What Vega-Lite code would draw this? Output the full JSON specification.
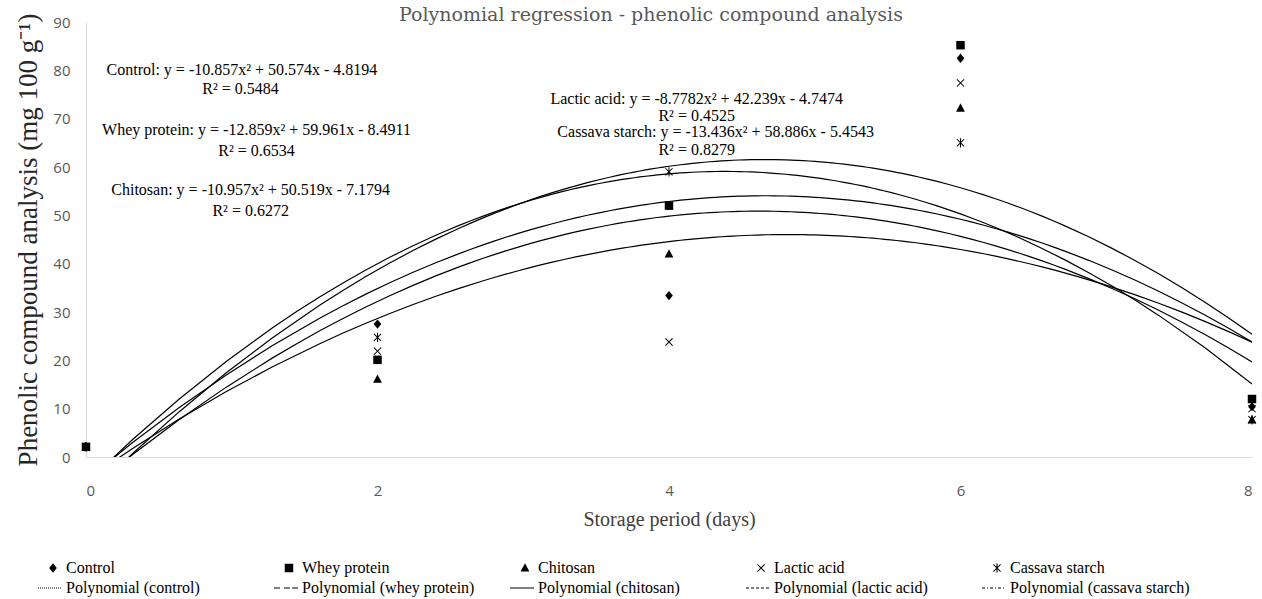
{
  "$schema": "https://vega.github.io/schema/vega-lite/v6.json",
  "width": 1166,
  "height": 435,
  "autosize": {"type": "none"},
  "padding": {"left": 86, "top": 22, "right": 10, "bottom": 142},
  "background": "white",
  "title": {
    "text": "Polynomial regression - phenolic compound analysis",
    "font": "DejaVu Serif",
    "fontSize": 19,
    "fontWeight": "normal",
    "color": "#595959",
    "anchor": "middle",
    "offset": -12,
    "dx": -18
  },
  "datasets": {
    "obs": [
      {"series": "Control", "day": 0, "value": 2.1},
      {"series": "Control", "day": 2, "value": 27.5},
      {"series": "Control", "day": 4, "value": 33.4},
      {"series": "Control", "day": 6, "value": 82.5},
      {"series": "Control", "day": 8, "value": 10.4},
      {"series": "Chitosan", "day": 0, "value": 2.1},
      {"series": "Chitosan", "day": 2, "value": 16.1},
      {"series": "Chitosan", "day": 4, "value": 42.0},
      {"series": "Chitosan", "day": 6, "value": 72.2},
      {"series": "Chitosan", "day": 8, "value": 7.7},
      {"series": "Lactic acid", "day": 0, "value": 2.1},
      {"series": "Lactic acid", "day": 2, "value": 21.9},
      {"series": "Lactic acid", "day": 4, "value": 23.8},
      {"series": "Lactic acid", "day": 6, "value": 77.4},
      {"series": "Lactic acid", "day": 8, "value": 10.0},
      {"series": "Cassava starch", "day": 0, "value": 2.1},
      {"series": "Cassava starch", "day": 2, "value": 24.75},
      {"series": "Cassava starch", "day": 4, "value": 59.0},
      {"series": "Cassava starch", "day": 6, "value": 65.0},
      {"series": "Cassava starch", "day": 8, "value": 7.7},
      {"series": "Whey protein", "day": 0, "value": 2.1},
      {"series": "Whey protein", "day": 2, "value": 20.1},
      {"series": "Whey protein", "day": 4, "value": 52.0},
      {"series": "Whey protein", "day": 6, "value": 85.2},
      {"series": "Whey protein", "day": 8, "value": 12.0}
    ],
    "notes": [
      {"label": "Control: y = -10.857x² + 50.574x - 4.8194", "day": 1.07, "value": 80.1},
      {"label": "R² = 0.5484", "day": 1.06, "value": 76.1},
      {"label": "Whey protein:  y = -12.859x² + 59.961x - 8.4911", "day": 1.17, "value": 67.7},
      {"label": "R² = 0.6534", "day": 1.17, "value": 63.4},
      {"label": "Chitosan:  y = -10.957x² + 50.519x - 7.1794", "day": 1.13, "value": 55.3},
      {"label": "R² = 0.6272", "day": 1.13, "value": 51.0},
      {"label": "Lactic acid: y = -8.7782x² + 42.239x - 4.7474", "day": 4.19, "value": 74.0},
      {"label": "R² = 0.4525", "day": 4.19, "value": 70.5},
      {"label": "Cassava starch:  y = -13.436x² + 58.886x - 5.4543", "day": 4.32, "value": 67.3},
      {"label": "R² = 0.8279", "day": 4.19, "value": 63.6}
    ]
  },
  "encoding": {
    "x": {
      "field": "day",
      "type": "quantitative",
      "scale": {"domain": [0, 8], "nice": false, "zero": false},
      "axis": {
        "values": [0, 2, 4, 6, 8],
        "title": "Storage period (days)",
        "grid": false,
        "ticks": false,
        "domainColor": "#d9d9d9",
        "domainWidth": 1,
        "labelFont": "Open Sans",
        "labelFontSize": 15,
        "labelColor": "#595959",
        "labelPadding": 26,
        "titleFont": "Liberation Serif",
        "titleFontSize": 20,
        "titleFontWeight": "normal",
        "titleColor": "#404040",
        "titlePadding": 11
      }
    },
    "y": {
      "field": "value",
      "type": "quantitative",
      "scale": {"domain": [0, 90], "nice": false},
      "axis": {
        "values": [0, 10, 20, 30, 40, 50, 60, 70, 80, 90],
        "title": "Phenolic compound analysis (mg 100 g⁻¹)",
        "grid": false,
        "ticks": false,
        "domainColor": "#d9d9d9",
        "domainWidth": 1,
        "labelFont": "Open Sans",
        "labelFontSize": 15,
        "labelColor": "#595959",
        "labelPadding": 16,
        "titleFont": "Liberation Serif",
        "titleFontSize": 27,
        "titleFontWeight": "normal",
        "titleColor": "#262626",
        "titlePadding": 10
      }
    }
  },
  "layer": [
    {
      "data": {"name": "obs"},
      "transform": [
        {"regression": "value", "on": "day", "groupby": ["series"], "method": "poly", "order": 2, "extent": [0, 8]}
      ],
      "mark": {"type": "line", "color": "black", "strokeWidth": 1.2, "clip": true},
      "encoding": {"detail": {"field": "series", "type": "nominal"}}
    },
    {
      "data": {"name": "obs"},
      "mark": {"type": "point", "filled": true, "color": "black", "strokeWidth": 0, "size": 256, "opacity": 1},
      "encoding": {
        "shape": {
          "field": "series",
          "type": "nominal",
          "scale": {
            "domain": ["Control", "Whey protein", "Chitosan", "Lactic acid", "Cassava starch", "Polynomial (control)", "Polynomial (whey protein)", "Polynomial (chitosan)", "Polynomial (lactic acid)", "Polynomial (cassava starch)"],
            "range": [
              "M0,-0.58L0.48,0L0,0.58L-0.48,0Z",
              "M-0.53,-0.53H0.53V0.53H-0.53Z",
              "M0,-0.6L0.55,0.45H-0.55Z",
              "M-0.406,-0.494L0.494,0.406L0.406,0.494L-0.494,-0.406ZM-0.406,0.494L-0.494,0.406L0.406,-0.494L0.494,-0.406Z",
              "M-0.406,-0.494L0.494,0.406L0.406,0.494L-0.494,-0.406ZM-0.406,0.494L-0.494,0.406L0.406,-0.494L0.494,-0.406ZM-0.0625,-0.58H0.0625V0.58H-0.0625Z",
              "M-1.875,-0.0625H-1.75V0.0625H-1.875ZM-1.625,-0.0625H-1.5V0.0625H-1.625ZM-1.375,-0.0625H-1.25V0.0625H-1.375ZM-1.125,-0.0625H-1V0.0625H-1.125ZM-0.875,-0.0625H-0.75V0.0625H-0.875ZM-0.625,-0.0625H-0.5V0.0625H-0.625ZM-0.375,-0.0625H-0.25V0.0625H-0.375ZM-0.125,-0.0625H0V0.0625H-0.125ZM0.125,-0.0625H0.25V0.0625H0.125ZM0.375,-0.0625H0.5V0.0625H0.375ZM0.625,-0.0625H0.75V0.0625H0.625ZM0.875,-0.0625H1V0.0625H0.875Z",
              "M-1.875,-0.0625H-1.125V0.0625H-1.875ZM-0.625,-0.0625H0.125V0.0625H-0.625ZM0.375,-0.0625H1.125V0.0625H0.375Z",
              "M-1.875,-0.0625H1.125V0.0625H-1.875Z",
              "M-1.875,-0.0625H-1.5V0.0625H-1.875ZM-1.25,-0.0625H-0.875V0.0625H-1.25ZM-0.625,-0.0625H-0.25V0.0625H-0.625ZM0,-0.0625H0.375V0.0625H0ZM0.625,-0.0625H1V0.0625H0.625Z",
              "M-1.875,-0.0625H-1.5V0.0625H-1.875ZM-1.25,-0.0625H-1.125V0.0625H-1.25ZM-0.875,-0.0625H-0.5V0.0625H-0.875ZM-0.25,-0.0625H-0.125V0.0625H-0.25ZM0.125,-0.0625H0.5V0.0625H0.125ZM0.75,-0.0625H0.875V0.0625H0.75Z"
            ]
          },
          "legend": {
            "orient": "none",
            "legendX": -41,
            "legendY": 538,
            "direction": "horizontal",
            "columns": 5,
            "gridAlign": "all",
            "columnPadding": 28,
            "rowPadding": 4,
            "title": null,
            "symbolSize": 256,
            "symbolFillColor": "black",
            "symbolStrokeWidth": 0,
            "symbolOpacity": 1,
            "labelFont": "Liberation Serif",
            "labelFontSize": 16,
            "labelColor": "black",
            "labelLimit": 400,
            "labelOffset": 5
          }
        }
      }
    },
    {
      "data": {"name": "notes"},
      "mark": {"type": "text", "font": "Liberation Serif", "fontSize": 16, "color": "black", "align": "center", "baseline": "middle"},
      "encoding": {"text": {"field": "label", "type": "nominal"}}
    }
  ],
  "config": {
    "view": {"stroke": null}
  }
}
